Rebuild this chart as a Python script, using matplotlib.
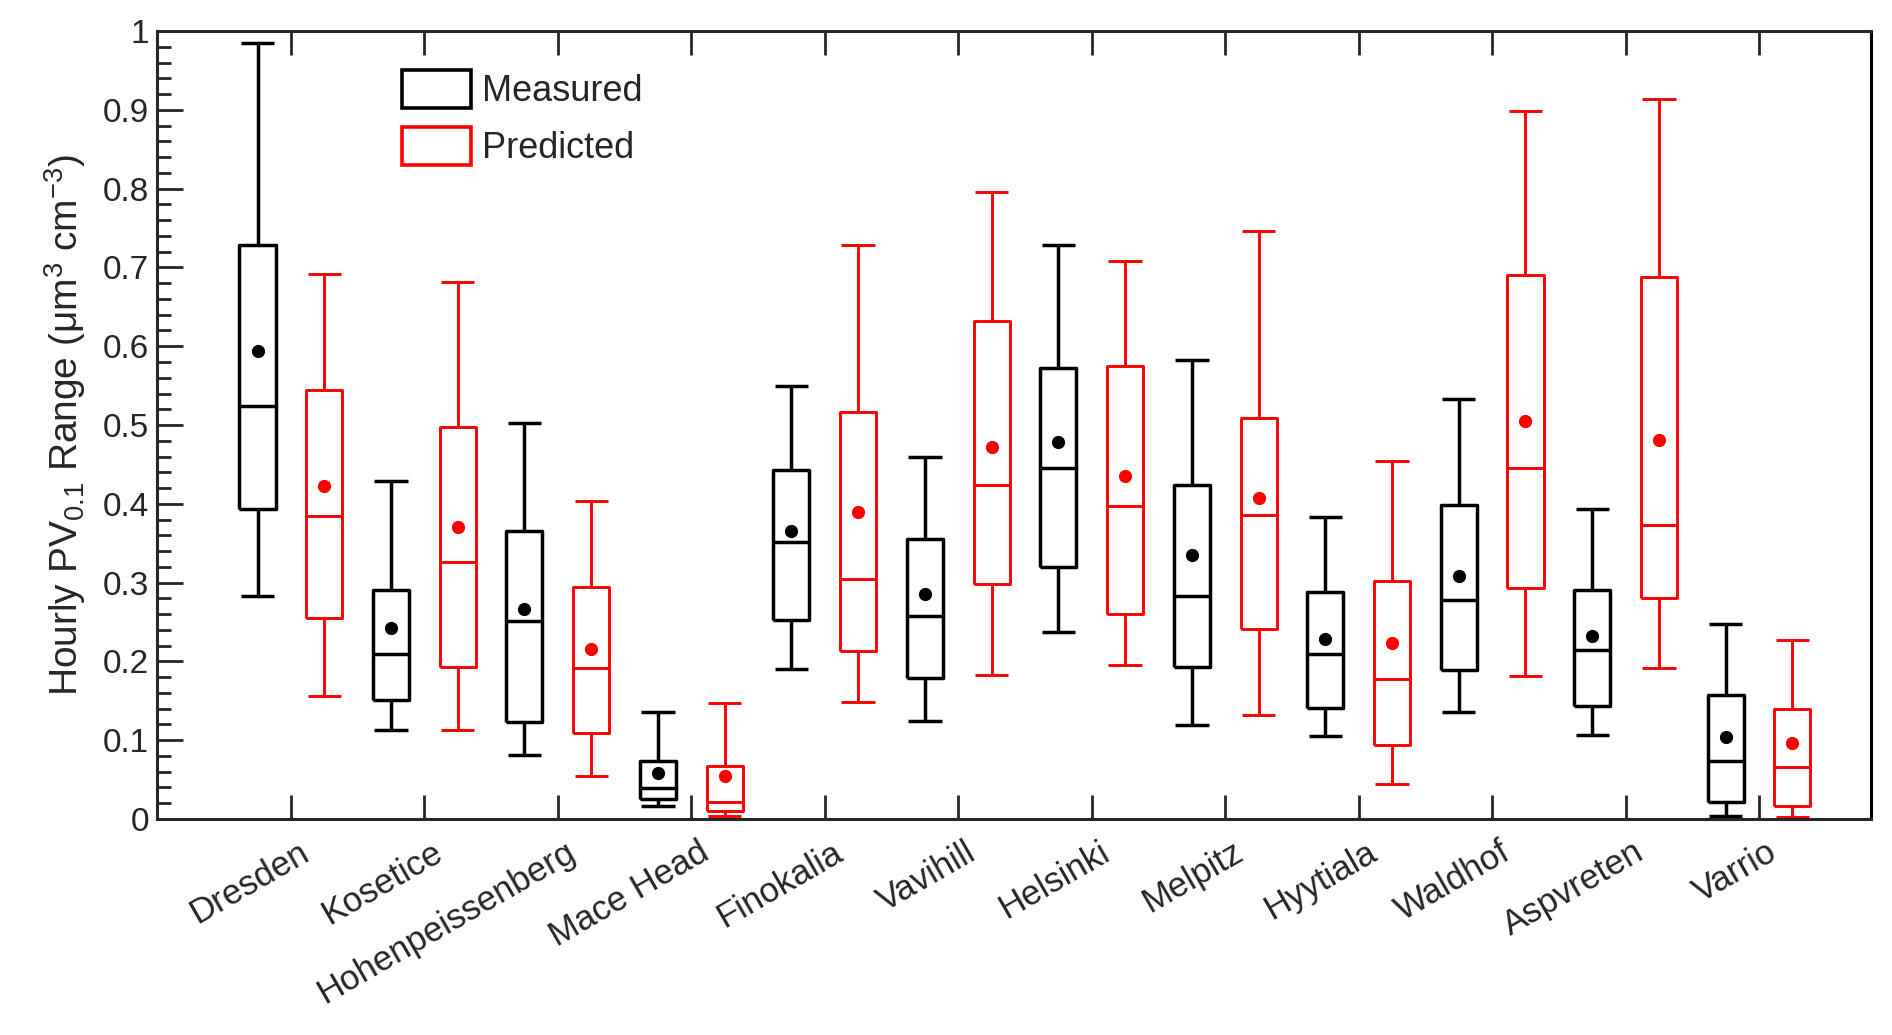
import matplotlib
matplotlib.use("Agg")
import matplotlib.pyplot as plt
import matplotlib.transforms as mtransforms
import numpy as np
from matplotlib.patches import Patch
from matplotlib.ticker import MultipleLocator

sites = ['Dresden', 'Kosetice', 'Hohenpeissenberg', 'Mace Head', 'Finokalia', 'Vavihill',
         'Helsinki', 'Melpitz', 'Hyytiala', 'Waldhof', 'Aspvreten', 'Varrio']

meas_whislo = [0.283, 0.113, 0.081, 0.016, 0.190, 0.124, 0.237, 0.119, 0.105, 0.136, 0.106, 0.004]
meas_q1     = [0.394, 0.151, 0.123, 0.025, 0.253, 0.179, 0.320, 0.193, 0.141, 0.189, 0.143, 0.021]
meas_med    = [0.524, 0.209, 0.251, 0.039, 0.352, 0.258, 0.446, 0.283, 0.209, 0.278, 0.215, 0.074]
meas_q3     = [0.729, 0.291, 0.365, 0.074, 0.443, 0.355, 0.573, 0.424, 0.288, 0.399, 0.290, 0.157]
meas_whishi = [0.985, 0.429, 0.503, 0.136, 0.550, 0.460, 0.729, 0.583, 0.383, 0.533, 0.393, 0.248]
meas_mean   = [0.594, 0.242, 0.267, 0.058, 0.366, 0.285, 0.478, 0.335, 0.229, 0.309, 0.232, 0.104]

pred_whislo = [0.156, 0.113, 0.054, 0.004, 0.148, 0.183, 0.195, 0.132, 0.045, 0.181, 0.192, 0.003]
pred_q1     = [0.255, 0.193, 0.109, 0.010, 0.213, 0.298, 0.260, 0.241, 0.094, 0.293, 0.281, 0.016]
pred_med    = [0.384, 0.326, 0.191, 0.021, 0.304, 0.424, 0.397, 0.386, 0.178, 0.445, 0.373, 0.066]
pred_q3     = [0.545, 0.498, 0.295, 0.067, 0.516, 0.632, 0.575, 0.509, 0.302, 0.691, 0.688, 0.139]
pred_whishi = [0.692, 0.681, 0.403, 0.147, 0.729, 0.796, 0.708, 0.746, 0.454, 0.898, 0.914, 0.227]
pred_mean   = [0.422, 0.371, 0.216, 0.055, 0.389, 0.472, 0.435, 0.407, 0.223, 0.505, 0.481, 0.096]

series_names = ['Measured', 'Predicted']

plt.rcParams['font.family'] = ['Liberation Sans', 'DejaVu Sans']
plt.rcParams['mathtext.fontset'] = 'custom'
plt.rcParams['mathtext.rm'] = 'Liberation Sans'
plt.rcParams['mathtext.it'] = 'Liberation Sans:italic'
plt.rcParams['mathtext.default'] = 'regular'

GRAY = '#262626'

def make_stats(lo, q1, med, q3, hi, mean):
    return [dict(whislo=a, q1=b, med=c, q3=d, whishi=e, mean=f, fliers=[])
            for a, b, c, d, e, f in zip(lo, q1, med, q3, hi, mean)]

fig = plt.figure(figsize=(18.92, 10.35), dpi=100)
ax = fig.add_axes([0.0832, 0.2087, 0.989 - 0.0832, 0.970 - 0.2087])

x = np.arange(1, len(sites) + 1)
groups = [
    (make_stats(meas_whislo, meas_q1, meas_med, meas_q3, meas_whishi, meas_mean), x - 0.25, 'black', 2.5),
    (make_stats(pred_whislo, pred_q1, pred_med, pred_q3, pred_whishi, pred_mean), x + 0.25, '#ff0000', 2.1),
]
for stats, pos, col, lw in groups:
    lp = dict(color=col, linewidth=lw, solid_capstyle='butt')
    ax.bxp(stats, positions=pos, widths=0.27, capwidths=0.25, showmeans=True, showfliers=False,
           boxprops=lp, whiskerprops=lp, capprops=lp, medianprops=lp,
           meanprops=dict(marker='o', markerfacecolor=col, markeredgecolor=col, markersize=8.5),
           manage_ticks=False)

ax.set_xlim(0, 12.84)
ax.set_ylim(0, 1)
ax.set_xticks(x)
ax.set_xticklabels(sites, rotation=30, ha='right', va='top', rotation_mode='anchor')
ax.set_yticks(np.round(np.arange(0, 1.01, 0.1), 1))
ax.set_yticklabels(['0'] + ['%.1f' % v for v in np.arange(0.1, 0.95, 0.1)] + ['1'])
ax.yaxis.set_minor_locator(MultipleLocator(0.02))

ax.tick_params(axis='x', which='both', direction='in', top=True, bottom=True, length=17, width=2,
               color=GRAY, labelcolor=GRAY, labelsize=25, pad=12)
ax.tick_params(axis='y', which='major', direction='in', left=True, right=False, length=19, width=2,
               color=GRAY, labelcolor=GRAY, labelsize=24, pad=6)
ax.tick_params(axis='y', which='minor', direction='in', left=True, right=False, length=10, width=2,
               color=GRAY)
for s in ax.spines.values():
    s.set_linewidth(2.2)
    s.set_color(GRAY)
ax.spines['right'].set_color('black')

# nudge rotated tick labels slightly to the right (after tick_params, which resets transforms)
shift = mtransforms.ScaledTranslation(7 / 100, 0, fig.dpi_scale_trans)
for lab in ax.get_xticklabels():
    lab.set_transform(lab.get_transform() + shift)

ax.set_ylabel('Hourly PV$_{0.1}$ Range (\u03bcm$^{3}$ cm$^{-3}$)', fontsize=28, color=GRAY, labelpad=11)

handles = [Patch(facecolor='none', edgecolor='black', linewidth=2.6),
           Patch(facecolor='none', edgecolor='#ff0000', linewidth=2.6)]
leg = ax.legend(handles, series_names, loc='upper left', bbox_to_anchor=(0.1427, 0.951),
                frameon=False, fontsize=26, handlelength=1.9, handleheight=1.25,
                handletextpad=0.32, labelspacing=0.5, borderpad=0, borderaxespad=0)
for t in leg.get_texts():
    t.set_color(GRAY)

fig.savefig('out.png', dpi=100, facecolor='white')
